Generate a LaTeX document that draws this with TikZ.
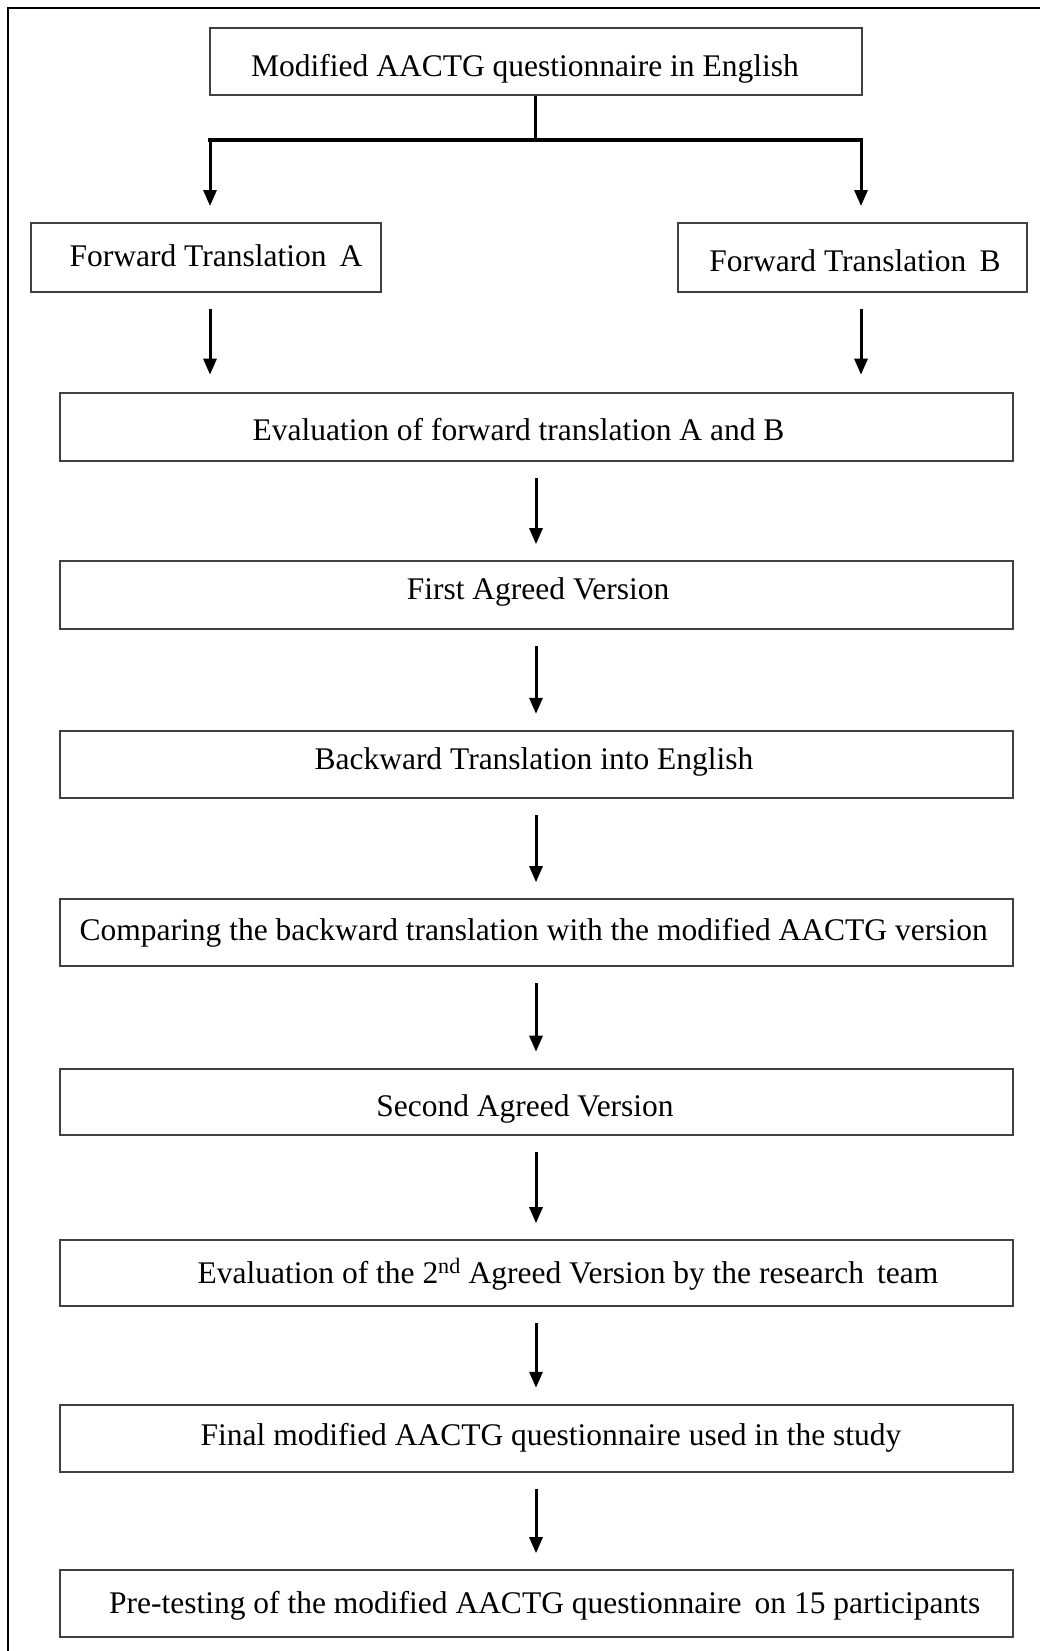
\documentclass[tikz,border=0pt]{standalone}
\usepackage{fontspec}
\setmainfont{Liberation Serif}
\usetikzlibrary{arrows.meta}
\begin{document}
\begin{tikzpicture}[x=1pt,y=-1pt,
  boxst/.style={draw=black!75,line width=2pt,inner sep=0pt,fill=white},
  txt/.style={anchor=base,inner sep=0pt,font=\fontsize{31.5}{36}\selectfont},
  arr/.style={line width=3pt,-{Triangle[length=16pt,width=13pt]}},
  conn/.style={line width=3.4pt}]
\useasboundingbox (0,0) rectangle (1039,1651);
% outer frame (top and left edges visible)
\draw[line width=2pt] (8,1660) -- (8,8) -- (1050,8);
% boxes
\node[boxst,minimum width=651.5pt,minimum height=67pt] (top) at (535.75,61.5) {};
\node[boxst,minimum width=350pt,minimum height=69pt] (A) at (206,257.5) {};
\node[boxst,minimum width=349pt,minimum height=69pt] (B) at (852.5,257.5) {};
\node[boxst,minimum width=953pt,minimum height=68pt] (ev) at (536,426.7) {};
\node[boxst,minimum width=953pt,minimum height=68pt] (first) at (536,595.2) {};
\node[boxst,minimum width=953pt,minimum height=67pt] (back) at (536,764.3) {};
\node[boxst,minimum width=953pt,minimum height=67pt] (comp) at (536,932.7) {};
\node[boxst,minimum width=953pt,minimum height=66pt] (second) at (536,1101.7) {};
\node[boxst,minimum width=953pt,minimum height=66pt] (evtwo) at (536,1273.2) {};
\node[boxst,minimum width=953pt,minimum height=67pt] (final) at (536,1438.3) {};
\node[boxst,minimum width=953pt,minimum height=67pt] (pre) at (536,1603.7) {};
% texts
\node[txt] (ttop) at (525,77) {Modified AACTG questionnaire in English};
\node[txt] (tA) at (216,266) {Forward Translation\, A};
\node[txt] (tB) at (855,271.6) {Forward Translation\, B};
\node[txt] (tev) at (518.5,440) {Evaluation of forward translation A and B};
\node[txt] (tfirst) at (538,599) {First Agreed Version};
\node[txt] (tback) at (534,769.5) {Backward Translation into English};
\node[txt] (tcomp) at (533.7,940) {Comparing the backward translation with the modified AACTG version};
\node[txt] (tsecond) at (525,1116) {Second Agreed Version};
\node[txt] (tevtwo) at (568,1283) {Evaluation of the 2\textsuperscript{nd} Agreed Version by the research\, team};
\node[txt] (tfinal) at (551,1445) {Final modified AACTG questionnaire used in the study};
\node[txt] (tpre) at (544.7,1613) {Pre-testing of the modified AACTG questionnaire\, on 15 participants};
% split connector
\coordinate (jm) at (535.75,140);
\coordinate (jl) at (210,140);
\coordinate (jr) at (861,140);
\draw[conn] (top.south) -- (jm);
\draw[conn,line cap=rect] (jl) -- (jr);
\draw[arr] (jl) -- ([yshift=16pt]jl |- A.north);
\draw[arr] (jr) -- ([yshift=16pt]jr |- B.north);
\draw[arr] ([yshift=-16pt]jl |- A.south) -- ([yshift=17pt]jl |- ev.north);
\draw[arr] ([yshift=-16pt]jr |- B.south) -- ([yshift=17pt]jr |- ev.north);
% chain
\foreach \u/\v in {ev/first,first/back,back/comp,comp/second,second/evtwo,evtwo/final,final/pre}
  \draw[arr] ([yshift=-16pt]\u.south) -- ([yshift=16pt]\v.north);
\end{tikzpicture}
\end{document}
